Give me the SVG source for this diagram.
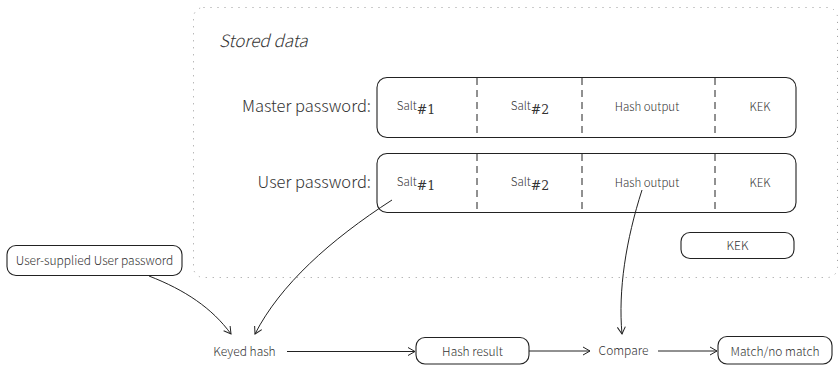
<svg xmlns="http://www.w3.org/2000/svg" width="840" height="365" viewBox="0 0 840 365">
<style>
text{font-family:"Noto Sans CJK SC","Noto Sans",sans-serif;font-weight:300;fill:#333}
.box{fill:#fff;stroke:#222;stroke-width:1.1}
.div{stroke:#222;stroke-width:1;stroke-dasharray:7,5}
.c{stroke:#222;stroke-width:1;fill:none;marker-end:url(#ah)}
.lbl{font-size:16.5px;text-anchor:end}
.cell{font-size:11.5px;text-anchor:middle}
.sub{font-family:"DejaVu Serif",serif;font-size:12.5px;font-weight:400}
.nd{font-size:12px;text-anchor:middle}
</style>
<defs>
<marker id="ah" markerWidth="10" markerHeight="10" refX="8" refY="5" orient="auto" markerUnits="userSpaceOnUse">
<path d="M1,1 L8,5 L1,9" fill="none" stroke="#222" stroke-width="1"/>
</marker>
</defs>
<g id="stored-data">
<rect x="193.5" y="7.5" width="644" height="270" rx="10" fill="none" stroke="#999" stroke-width="1" stroke-dasharray="1,6"/>
<text x="219" y="47" font-size="17" font-style="italic">Stored data</text>
</g>
<g id="master-row">
<text class="lbl" x="371" y="112">Master password:</text>
<rect class="box" x="377" y="77.5" width="419" height="60" rx="10"/>
<line class="div" x1="477" y1="78" x2="477" y2="137"/>
<line class="div" x1="582" y1="78" x2="582" y2="137"/>
<line class="div" x1="715" y1="78" x2="715" y2="137"/>
<text class="cell" x="416" y="110">Salt<tspan class="sub" dy="4">#1</tspan></text>
<text class="cell" x="530" y="110">Salt<tspan class="sub" dy="4">#2</tspan></text>
<text class="cell" x="647" y="111">Hash output</text>
<text class="cell" x="760" y="111">KEK</text>
</g>
<g id="user-row">
<text class="lbl" x="371" y="188">User password:</text>
<rect class="box" x="377" y="153.5" width="419" height="59" rx="10"/>
<line class="div" x1="477" y1="154" x2="477" y2="212"/>
<line class="div" x1="582" y1="154" x2="582" y2="212"/>
<line class="div" x1="715" y1="154" x2="715" y2="212"/>
<text class="cell" x="416" y="186">Salt<tspan class="sub" dy="4">#1</tspan></text>
<text class="cell" x="530" y="186">Salt<tspan class="sub" dy="4">#2</tspan></text>
<text class="cell" x="647" y="187">Hash output</text>
<text class="cell" x="760" y="187">KEK</text>
</g>
<g id="kek">
<rect class="box" x="681" y="232.5" width="113" height="26" rx="9"/>
<text class="nd" x="737.5" y="249.5">KEK</text>
</g>
<g id="user-supplied">
<rect class="box" x="7" y="245.5" width="175" height="30" rx="9"/>
<text class="nd" x="94.5" y="264.5">User-supplied User password</text>
</g>
<g id="keyed-hash">
<text class="nd" x="244.5" y="355.5">Keyed hash</text>
</g>
<g id="hash-result">
<rect class="box" x="416" y="337.5" width="113" height="26.5" rx="9"/>
<text class="nd" x="472.5" y="355.5">Hash result</text>
</g>
<g id="compare">
<text class="nd" x="623.5" y="355">Compare</text>
</g>
<g id="match">
<rect class="box" x="718" y="336.5" width="114" height="27.5" rx="9"/>
<text class="nd" x="775" y="355.5">Match/no match</text>
</g>
<g id="connectors">
<path class="c" d="M149,276 C185,290 212,308 231,334"/>
<path class="c" d="M392,200 C330,240 280,285 255,334"/>
<path class="c" d="M642,190 C626,240 618,290 622,334"/>
<path class="c" d="M287,351.5 L415,351.5"/>
<path class="c" d="M529,351 L590,351"/>
<path class="c" d="M658,351 L717,351"/>
</g>
</svg>
